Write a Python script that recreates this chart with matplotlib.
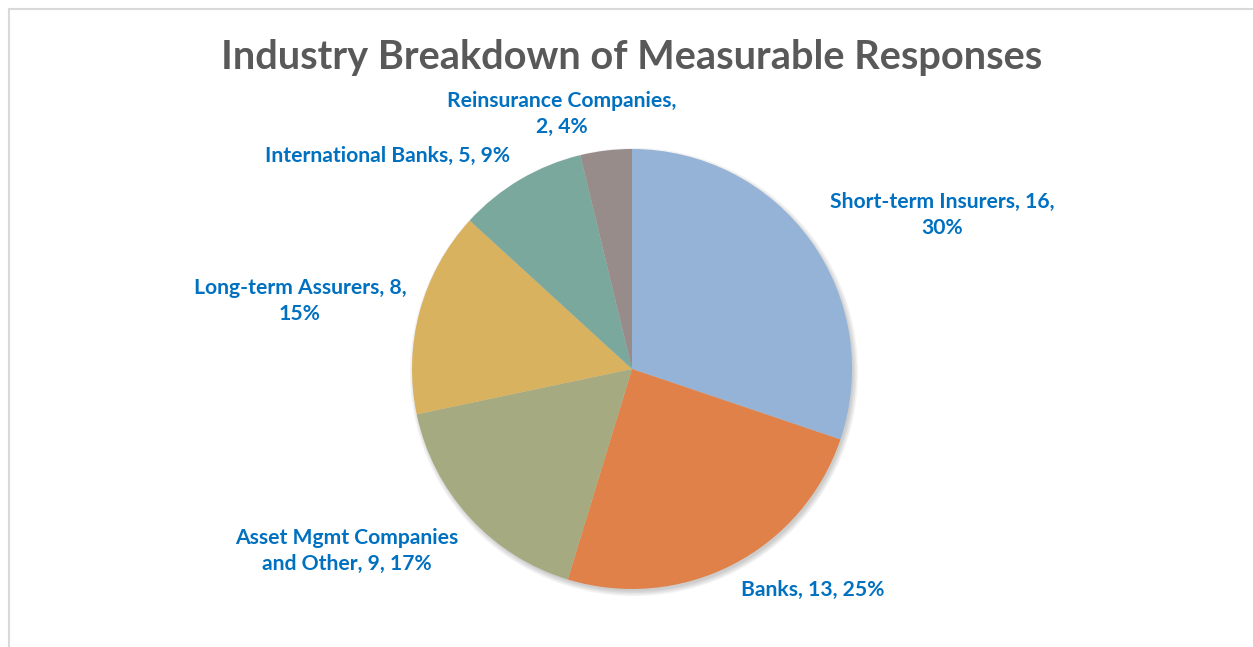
import matplotlib
matplotlib.use("Agg")
import matplotlib.pyplot as plt
from matplotlib.patches import Circle, Rectangle

# ============================================================
# DATA
# ============================================================

categories = ["Short-term Insurers", "Banks", "Asset Mgmt Companies and Other",
              "Long-term Assurers", "International Banks", "Reinsurance Companies"]
counts = [16, 13, 9, 8, 5, 2]
pct_labels = ["30%", "25%", "17%", "15%", "9%", "4%"]
label_texts = [
    "Short-term Insurers, 16,\n30%",
    "Banks, 13, 25%",
    "Asset Mgmt Companies\nand Other, 9, 17%",
    "Long-term Assurers, 8,\n15%",
    "International Banks, 5, 9%",
    "Reinsurance Companies,\n2, 4%",
]
colors = ["#95B3D7", "#DF8149", "#A5AA80", "#D8B25E", "#7BA89D", "#978C89"]

# label anchor points in pixel coords (x, y from top)
label_pos = [(942, 215), (813, 590), (347, 551), (300, 301), (388, 156), (562, 114)]

W, H = 1253, 647
CX, CY, R = 632, 369, 220

# ============================================================
# FIGURE
# ============================================================

fig = plt.figure(figsize=(W / 100, H / 100), dpi=100)
ax = fig.add_axes([0, 0, 1, 1])

# soft shadow behind the pie
for i, a in enumerate([0.05, 0.05, 0.05, 0.05]):
    ax.add_patch(Circle((CX + 2, H - CY - 3), R + 4 - i * 1.5, color="black",
                        alpha=a, lw=0, zorder=0))

ax.pie(counts, colors=colors, startangle=90, counterclock=False,
       center=(CX, H - CY), radius=R, frame=True,
       wedgeprops={"linewidth": 0})

for txt, (x, y) in zip(label_texts, label_pos):
    ax.text(x, H - y, txt, ha="center", va="center", color="#0070C0",
            fontsize=15.2, fontweight="bold", family="Lato", linespacing=1.38)

ax.text(632, H - 57, "Industry Breakdown of Measurable Responses", ha="center",
        va="center", color="#595959", fontsize=28.6, fontweight="bold", family="Lato")

# chart frame
ax.add_patch(Rectangle((8.5, -20), W + 20, H - 8.5 + 20, fill=False,
                       edgecolor="#D9D9D9", lw=1.5, zorder=5))

ax.set_xlim(0, W)
ax.set_ylim(0, H)
ax.set_aspect("auto")
ax.axis("off")

fig.savefig("out.png", dpi=100)
